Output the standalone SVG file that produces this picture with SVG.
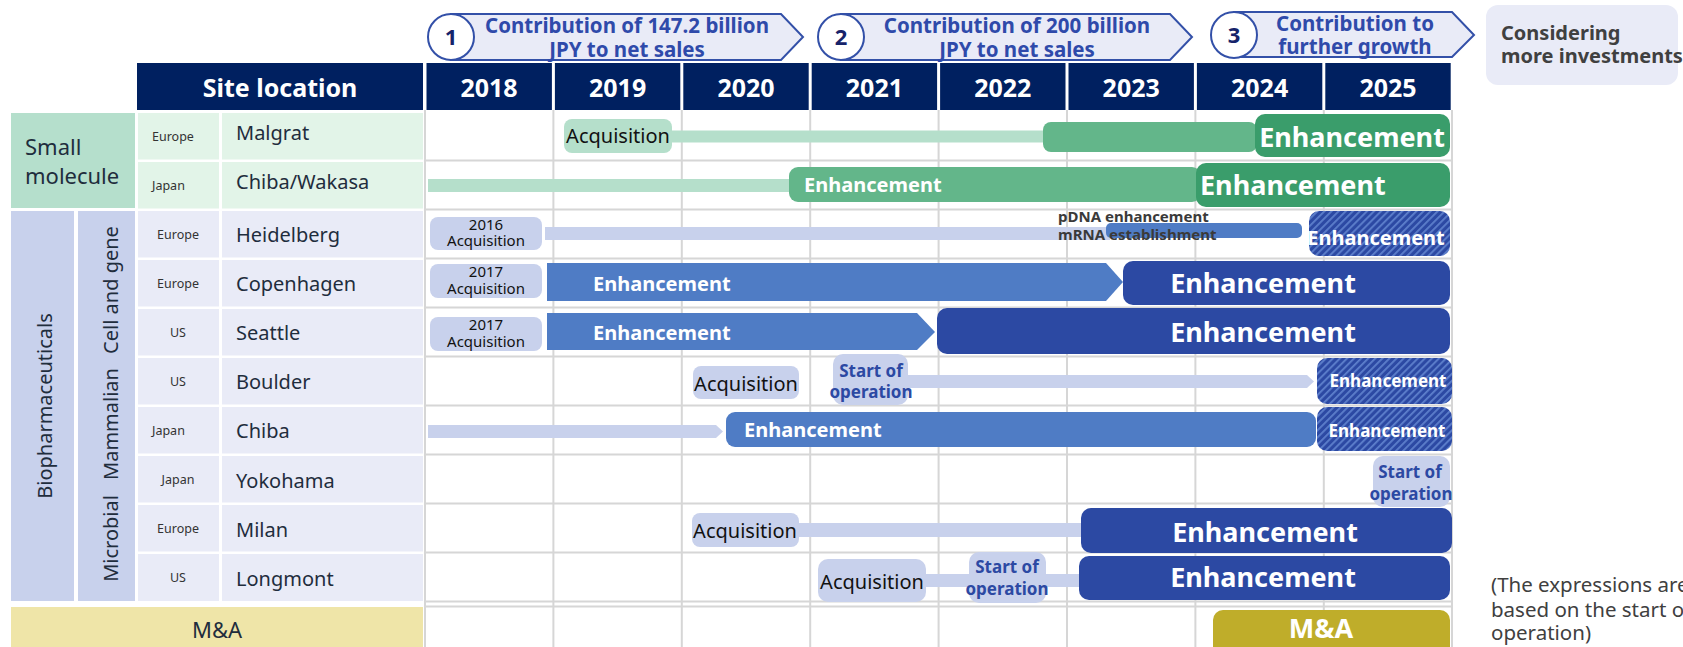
<svg xmlns="http://www.w3.org/2000/svg" width="1683" height="647" viewBox="0 0 1683 647">
<defs>
<pattern id="hatch" width="5" height="5" patternUnits="userSpaceOnUse" patternTransform="rotate(45)">
<rect width="5" height="5" fill="#2c49a3"/>
<rect width="1.8" height="5" fill="#5e80cc"/>
</pattern>
<style>
text{font-family:"Noto Sans","Open Sans","Liberation Sans",sans-serif}
.hdr{fill:#002060}
.hdrt{fill:#fff;font-weight:700;font-size:25px;text-anchor:middle}
.ban{fill:#e9ebf7;stroke:#3350a8;stroke-width:2}
.circ{fill:#fff;stroke:#3350a8;stroke-width:2}
.num{fill:#16236a;font-weight:700;font-size:22px;text-anchor:middle}
.bant{fill:#2f4aaa;font-weight:700;font-size:20.5px;text-anchor:middle}
.grid{stroke:#d6d6d6;stroke-width:2}
.site{fill:#1f2d3d;font-size:20px}
.reg{fill:#333;font-size:12.5px}
.regc{fill:#333;font-size:12.5px;text-anchor:middle}
.lbl{fill:#1f2d3d;font-size:20px;text-anchor:middle}
.smc{fill:#e2f4e8}
.bioc{fill:#e9ebf7}
.peri{fill:#c8d1ec}
.mint{fill:#b5dfcb}
.gmid{fill:#63b68a}
.gdark{fill:#3a9d6b}
.blue{fill:#4f7cc5}
.dblue{fill:#2c49a3}
.big{fill:#fff;font-weight:700;font-size:27px}
.mid{fill:#fff;font-weight:700;font-size:20px}
.sm{fill:#fff;font-weight:700;font-size:17px;text-anchor:middle}
.acq{fill:#111;font-size:20px;text-anchor:middle}
.acqs{fill:#111;font-size:15px;text-anchor:middle}
.sop{fill:#2c49a3;font-weight:700;font-size:17px;text-anchor:middle}
.note{fill:#3a3a3a;font-weight:700;font-size:15px}
.foot{fill:#404040;font-size:20.5px}
</style>
</defs>

<!-- Top banners -->
<g id="phase1">
<polygon class="ban" points="451,14 781,14 803,37 781,60 451,60"/>
<circle class="circ" cx="451" cy="37" r="23"/>
<text class="num" x="451" y="45">1</text>
<text class="bant" x="627" y="33">Contribution of 147.2 billion</text>
<text class="bant" x="627" y="57">JPY to net sales</text>
</g>
<g id="phase2">
<polygon class="ban" points="841,14 1170,14 1192,37 1170,60 841,60"/>
<circle class="circ" cx="841" cy="37" r="23"/>
<text class="num" x="841" y="45">2</text>
<text class="bant" x="1017" y="33">Contribution of 200 billion</text>
<text class="bant" x="1017" y="57">JPY to net sales</text>
</g>
<g id="phase3">
<polygon class="ban" points="1234,12 1452,12 1474,35 1452,57 1234,57"/>
<circle class="circ" cx="1234" cy="35" r="23"/>
<text class="num" x="1234" y="43">3</text>
<text class="bant" x="1355" y="31">Contribution to</text>
<text class="bant" x="1355" y="54">further growth</text>
</g>
<g id="considering">
<rect x="1486" y="5" width="192" height="80" rx="12" fill="#e9ebf7"/>
<text x="1501" y="40" fill="#404040" font-weight="700" font-size="20">Considering</text>
<text x="1501" y="63" fill="#404040" font-weight="700" font-size="20">more investments</text>
</g>

<!-- Header row -->
<g id="header">
<rect class="hdr" x="137" y="63" width="286" height="47"/>
<text class="hdrt" x="280" y="97">Site location</text>
<rect class="hdr" x="426.5" y="63" width="125.4" height="47"/>
<text class="hdrt" x="489" y="97">2018</text>
<rect class="hdr" x="554.9" y="63" width="125.4" height="47"/>
<text class="hdrt" x="617.6" y="97">2019</text>
<rect class="hdr" x="683.3" y="63" width="125.4" height="47"/>
<text class="hdrt" x="746" y="97">2020</text>
<rect class="hdr" x="811.7" y="63" width="125.4" height="47"/>
<text class="hdrt" x="874.4" y="97">2021</text>
<rect class="hdr" x="940.1" y="63" width="125.4" height="47"/>
<text class="hdrt" x="1002.8" y="97">2022</text>
<rect class="hdr" x="1068.5" y="63" width="125.4" height="47"/>
<text class="hdrt" x="1131.2" y="97">2023</text>
<rect class="hdr" x="1196.9" y="63" width="125.4" height="47"/>
<text class="hdrt" x="1259.6" y="97">2024</text>
<rect class="hdr" x="1325.3" y="63" width="125.4" height="47"/>
<text class="hdrt" x="1388" y="97">2025</text>
</g>

<!-- Grid -->
<g id="grid">
<line class="grid" x1="425" y1="110" x2="425" y2="647"/>
<line class="grid" x1="553.4" y1="110" x2="553.4" y2="647"/>
<line class="grid" x1="681.8" y1="110" x2="681.8" y2="647"/>
<line class="grid" x1="810.2" y1="110" x2="810.2" y2="647"/>
<line class="grid" x1="938.6" y1="110" x2="938.6" y2="647"/>
<line class="grid" x1="1067" y1="110" x2="1067" y2="647"/>
<line class="grid" x1="1195.4" y1="110" x2="1195.4" y2="647"/>
<line class="grid" x1="1323.8" y1="110" x2="1323.8" y2="647"/>
<line class="grid" x1="1452" y1="110" x2="1452" y2="647"/>
<line class="grid" x1="425" y1="160.4" x2="1452" y2="160.4"/>
<line class="grid" x1="425" y1="209.4" x2="1452" y2="209.4"/>
<line class="grid" x1="425" y1="258.4" x2="1452" y2="258.4"/>
<line class="grid" x1="425" y1="307.4" x2="1452" y2="307.4"/>
<line class="grid" x1="425" y1="356.4" x2="1452" y2="356.4"/>
<line class="grid" x1="425" y1="405.4" x2="1452" y2="405.4"/>
<line class="grid" x1="425" y1="454.4" x2="1452" y2="454.4"/>
<line class="grid" x1="425" y1="503.4" x2="1452" y2="503.4"/>
<line class="grid" x1="425" y1="552.4" x2="1452" y2="552.4"/>
<line class="grid" x1="425" y1="601.6" x2="1452" y2="601.6"/>
<line class="grid" x1="425" y1="606.4" x2="1452" y2="606.4"/>
</g>

<!-- Left category labels -->
<g id="cat-small">
<rect x="11" y="113" width="124" height="95" fill="#b5dfcc"/>
<text x="25" y="155" fill="#1f2d3d" font-size="22">Small</text>
<text x="25" y="184" fill="#1f2d3d" font-size="22">molecule</text>
</g>
<g id="cat-bio">
<rect x="11" y="211" width="63" height="390" class="peri"/>
<text class="lbl" font-size="19.5" transform="translate(52,406) rotate(-90)">Biopharmaceuticals</text>
</g>
<g id="cat-sub">
<rect x="78" y="211" width="57" height="390" class="peri"/>
<text class="lbl" transform="translate(118,290) rotate(-90)">Cell and gene</text>
<text class="lbl" transform="translate(118,424) rotate(-90)">Mammalian</text>
<text class="lbl" transform="translate(118,538.5) rotate(-90)">Microbial</text>
</g>
<g id="cat-ma">
<rect x="11" y="607" width="412" height="42" fill="#efe5a8"/>
<text x="217" y="638" fill="#1f2d3d" font-size="22" text-anchor="middle">M&amp;A</text>
</g>

<!-- Site rows (labels) -->
<g id="site-malgrat">
<rect class="smc" x="138" y="113" width="81" height="46.5"/>
<rect class="smc" x="222" y="113" width="201" height="46.5"/>
<text class="reg" x="152" y="141">Europe</text>
<text class="site" x="236" y="140">Malgrat</text>
</g>
<g id="site-chiba-wakasa">
<rect class="smc" x="138" y="162" width="81" height="46.5"/>
<rect class="smc" x="222" y="162" width="201" height="46.5"/>
<text class="reg" x="152" y="189.5">Japan</text>
<text class="site" x="236" y="189">Chiba/Wakasa</text>
</g>
<g id="site-heidelberg">
<rect class="bioc" x="138" y="211" width="81" height="46.5"/>
<rect class="bioc" x="222" y="211" width="201" height="46.5"/>
<text class="regc" x="178" y="238.5">Europe</text>
<text class="site" x="236" y="242">Heidelberg</text>
</g>
<g id="site-copenhagen">
<rect class="bioc" x="138" y="260" width="81" height="46.5"/>
<rect class="bioc" x="222" y="260" width="201" height="46.5"/>
<text class="regc" x="178" y="287.5">Europe</text>
<text class="site" x="236" y="291">Copenhagen</text>
</g>
<g id="site-seattle">
<rect class="bioc" x="138" y="309" width="81" height="46.5"/>
<rect class="bioc" x="222" y="309" width="201" height="46.5"/>
<text class="regc" x="178" y="336.5">US</text>
<text class="site" x="236" y="340">Seattle</text>
</g>
<g id="site-boulder">
<rect class="bioc" x="138" y="358" width="81" height="46.5"/>
<rect class="bioc" x="222" y="358" width="201" height="46.5"/>
<text class="regc" x="178" y="385.5">US</text>
<text class="site" x="236" y="389">Boulder</text>
</g>
<g id="site-chiba">
<rect class="bioc" x="138" y="407" width="81" height="46.5"/>
<rect class="bioc" x="222" y="407" width="201" height="46.5"/>
<text class="reg" x="152" y="435">Japan</text>
<text class="site" x="236" y="438">Chiba</text>
</g>
<g id="site-yokohama">
<rect class="bioc" x="138" y="456" width="81" height="46.5"/>
<rect class="bioc" x="222" y="456" width="201" height="46.5"/>
<text class="regc" x="178" y="483.5">Japan</text>
<text class="site" x="236" y="488">Yokohama</text>
</g>
<g id="site-milan">
<rect class="bioc" x="138" y="505" width="81" height="46.5"/>
<rect class="bioc" x="222" y="505" width="201" height="46.5"/>
<text class="regc" x="178" y="532.5">Europe</text>
<text class="site" x="236" y="537">Milan</text>
</g>
<g id="site-longmont">
<rect class="bioc" x="138" y="554" width="81" height="47"/>
<rect class="bioc" x="222" y="554" width="201" height="47"/>
<text class="regc" x="178" y="581.5">US</text>
<text class="site" x="236" y="586">Longmont</text>
</g>

<!-- Connectors (thin bars / arrows) -->
<g id="connectors">
<rect class="mint" x="672" y="130.5" width="373" height="12"/>
<rect class="mint" x="428" y="179" width="365" height="13"/>
<rect class="peri" x="545" y="227" width="565" height="13"/>
<polygon class="peri" points="908,375 1307,375 1314,381.5 1307,388 908,388"/>
<polygon class="peri" points="428,425 716,425 723,431.5 716,438 428,438"/>
<rect class="peri" x="799" y="523" width="285" height="14"/>
<rect class="peri" x="926" y="574" width="45" height="13"/>
<rect class="peri" x="1044" y="574" width="38" height="13"/>
</g>

<!-- Timeline nodes -->
<g id="malgrat-acq">
<rect class="mint" x="564" y="119" width="108" height="34" rx="8"/>
<text class="acq" x="618" y="143">Acquisition</text>
</g>
<g id="malgrat-enh">
<rect class="gmid" x="1043" y="122" width="214" height="30" rx="8"/>
<rect class="gdark" x="1255" y="114" width="195" height="43" rx="10"/>
<text class="big" x="1352" y="147" text-anchor="middle">Enhancement</text>
</g>
<g id="chibawakasa-enh">
<rect class="gmid" x="789" y="167" width="412" height="35" rx="9"/>
<text class="mid" x="804" y="192">Enhancement</text>
<rect class="gdark" x="1196" y="163" width="254" height="44" rx="10"/>
<text class="big" x="1200" y="195">Enhancement</text>
</g>

<g id="heidelberg-acq">
<rect class="peri" x="430" y="217" width="112" height="33" rx="8"/>
<text class="acqs" x="486" y="230">2016</text>
<text class="acqs" x="486" y="246">Acquisition</text>
</g>
<g id="heidelberg-pdna">
<rect class="blue" x="1106" y="223" width="196" height="15" rx="5"/>
<text class="note" x="1058" y="222">pDNA enhancement</text>
<text class="note" x="1058" y="240">mRNA establishment</text>
</g>
<g id="heidelberg-enh">
<rect x="1309" y="211" width="141" height="45" rx="10" fill="url(#hatch)"/>
<text class="mid" font-size="19.5" x="1376" y="245" text-anchor="middle">Enhancement</text>
</g>

<g id="copenhagen-acq">
<rect class="peri" x="430" y="264" width="112" height="34" rx="8"/>
<text class="acqs" x="486" y="277">2017</text>
<text class="acqs" x="486" y="294">Acquisition</text>
</g>
<g id="copenhagen-enh">
<polygon class="blue" points="547,263 1106,263 1123,282 1106,301 547,301"/>
<text class="mid" x="593" y="291">Enhancement</text>
<rect class="dblue" x="1123" y="261" width="327" height="44" rx="10"/>
<text class="big" x="1263" y="293" text-anchor="middle">Enhancement</text>
</g>

<g id="seattle-acq">
<rect class="peri" x="430" y="317" width="112" height="34" rx="8"/>
<text class="acqs" x="486" y="330">2017</text>
<text class="acqs" x="486" y="347">Acquisition</text>
</g>
<g id="seattle-enh">
<polygon class="blue" points="547,313 917,313 935,332 917,350 547,350"/>
<text class="mid" x="593" y="340">Enhancement</text>
<rect class="dblue" x="937" y="308" width="513" height="46" rx="10"/>
<text class="big" x="1263" y="342" text-anchor="middle">Enhancement</text>
</g>

<g id="boulder-acq">
<rect class="peri" x="693" y="366" width="106" height="33" rx="8"/>
<text class="acq" x="746" y="391">Acquisition</text>
</g>
<g id="boulder-start">
<rect class="peri" x="833" y="354" width="75" height="51" rx="10"/>
<text class="sop" x="871" y="377">Start of</text>
<text class="sop" x="871" y="398">operation</text>
</g>
<g id="boulder-enh">
<rect x="1317" y="358" width="135" height="46" rx="10" fill="url(#hatch)"/>
<text class="sm" x="1388" y="387">Enhancement</text>
</g>

<g id="chiba-enh">
<rect class="blue" x="726" y="412" width="590" height="35" rx="9"/>
<text class="mid" x="744" y="437">Enhancement</text>
<rect x="1317" y="407" width="135" height="44" rx="10" fill="url(#hatch)"/>
<text class="sm" x="1387" y="437">Enhancement</text>
</g>

<g id="yokohama-start">
<rect class="peri" x="1373" y="456" width="77" height="51" rx="10"/>
<text class="sop" x="1410" y="478">Start of</text>
<text class="sop" x="1411" y="500">operation</text>
</g>

<g id="milan-acq">
<rect class="peri" x="692" y="513" width="107" height="34" rx="8"/>
<text class="acq" x="745" y="538">Acquisition</text>
</g>
<g id="milan-enh">
<rect class="dblue" x="1081" y="508" width="371" height="45" rx="10"/>
<text class="big" x="1265" y="542" text-anchor="middle">Enhancement</text>
</g>

<g id="longmont-acq">
<rect class="peri" x="818" y="559" width="108" height="43" rx="10"/>
<text class="acq" x="872" y="589">Acquisition</text>
</g>
<g id="longmont-start">
<rect class="peri" x="969" y="552" width="77" height="51" rx="10"/>
<text class="sop" x="1007" y="573">Start of</text>
<text class="sop" x="1007" y="595">operation</text>
</g>
<g id="longmont-enh">
<rect class="dblue" x="1079" y="556" width="371" height="44" rx="10"/>
<text class="big" x="1263" y="587" text-anchor="middle">Enhancement</text>
</g>

<g id="ma-bar">
<rect x="1213" y="610" width="237" height="50" rx="10" fill="#bfad2a"/>
<text class="big" x="1321" y="638" text-anchor="middle">M&amp;A</text>
</g>

<g id="footnote">
<text class="foot" x="1491" y="592">(The expressions are</text>
<text class="foot" x="1491" y="617">based on the start of</text>
<text class="foot" x="1491" y="640">operation)</text>
</g>
</svg>
